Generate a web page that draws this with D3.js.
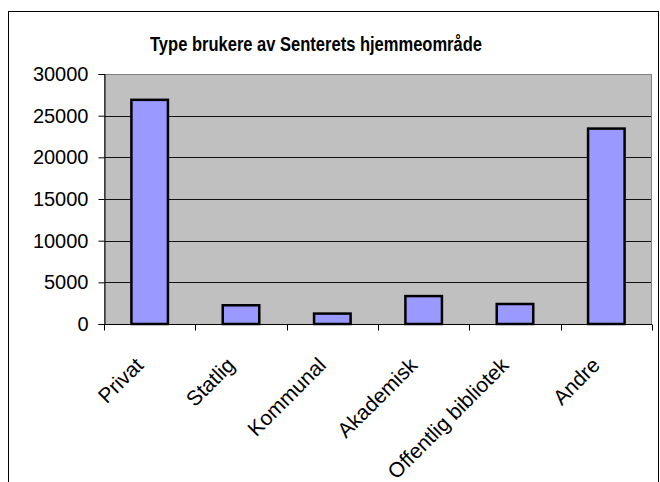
<!DOCTYPE html>
<html>
<head>
<meta charset="utf-8">
<script src="https://cdn.jsdelivr.net/npm/d3@7"></script>
<style>
  body { margin: 0; background: #fff; }
  svg { display: block; font-family: "Liberation Sans", Arial, sans-serif; }
</style>
</head>
<body>
<div class="canvas"></div>
<script>
const categories = ['Privat', 'Statlig', 'Kommunal', 'Akademisk', 'Offentlig bibliotek', 'Andre'];
const users = [26900, 2250, 1250, 3350, 2400, 23450];
const yTicks = [0, 5000, 10000, 15000, 20000, 25000, 30000];
const title = 'Type brukere av Senterets hjemmeområde';

const svgWidth = 660;
const svgHeight = 482;
const margin = { top: 74, right: 8, bottom: 158, left: 104 };
const chartWidth = 652 - margin.left;
const chartHeight = 324 - margin.top;

const svg = d3.select('.canvas')
  .append('svg')
  .attr('width', svgWidth)
  .attr('height', svgHeight);

// outer chart frame (runs off the right and bottom of the picture)
svg.append('rect')
  .attr('x', 8.5).attr('y', 11.5)
  .attr('width', 650).attr('height', 500)
  .attr('fill', 'none')
  .attr('stroke', '#000');

svg.append('text')
  .attr('x', 150).attr('y', 51)
  .attr('font-weight', 'bold')
  .attr('font-size', '21px')
  .attr('textLength', 332)
  .attr('lengthAdjust', 'spacingAndGlyphs')
  .text(title);

const chart = svg.append('g').attr('transform', `translate(${margin.left}, ${margin.top})`);

const xScale = d3.scaleBand().domain(categories).range([0, chartWidth]).paddingInner(0.6).paddingOuter(0.3);
const xEdges = d3.scaleBand().domain(categories).range([0, chartWidth]);
const yScale = d3.scaleLinear().domain([0, 30000]).range([chartHeight, 0]);

chart.append('rect')
  .attr('width', chartWidth)
  .attr('height', chartHeight)
  .attr('fill', '#c0c0c0');

// gridlines
chart.selectAll('.grid')
  .data(yTicks.filter((d) => d > 0 && d < 30000))
  .enter()
  .append('line')
  .attr('x1', 0).attr('x2', chartWidth)
  .attr('y1', (d) => Math.round(yScale(d)) + 0.5)
  .attr('y2', (d) => Math.round(yScale(d)) + 0.5)
  .attr('stroke', '#111')
  .attr('stroke-width', 1);

chart.append('rect')
  .attr('x', 0.5).attr('y', 0.5)
  .attr('width', chartWidth - 1)
  .attr('height', chartHeight)
  .attr('fill', 'none')
  .attr('stroke', '#808080');

chart.selectAll('.bar')
  .data(categories)
  .enter()
  .append('rect')
  .attr('class', 'bar')
  .attr('x', (d) => xScale(d))
  .attr('y', (d, i) => yScale(users[i]))
  .attr('width', xScale.bandwidth())
  .attr('height', (d, i) => chartHeight - yScale(users[i]))
  .attr('fill', '#9999ff')
  .attr('stroke', '#000')
  .attr('stroke-width', 2.5);

const yAxis = d3.axisLeft(yScale).tickValues(yTicks).tickSize(6).tickPadding(10).tickFormat((d) => `${d}`);
const yAxisGroup = chart.append('g').attr('transform', 'translate(0.5,0)').call(yAxis);
yAxisGroup.select('.domain').attr('stroke', '#000');
yAxisGroup.selectAll('text')
  .attr('font-size', '20px')
  .attr('fill', '#000')
  .attr('font-family', '"Liberation Sans", Arial, sans-serif');

const xAxisGroup = chart.append('g').attr('transform', `translate(0, ${chartHeight + 0.5})`);
xAxisGroup.append('line')
  .attr('x1', 0).attr('x2', chartWidth)
  .attr('stroke', '#000');
xAxisGroup.selectAll('.tick')
  .data(categories.concat(['end']))
  .enter()
  .append('line')
  .attr('x1', (d, i) => Math.round(i < categories.length ? xEdges(d) : chartWidth) + 0.5)
  .attr('x2', (d, i) => Math.round(i < categories.length ? xEdges(d) : chartWidth) + 0.5)
  .attr('y1', 0).attr('y2', 6)
  .attr('stroke', '#000');

xAxisGroup.selectAll('.label')
  .data(categories)
  .enter()
  .append('text')
  .attr('text-anchor', 'end')
  .attr('font-size', '21px')
  .attr('transform', (d) => `translate(${xEdges(d) + xEdges.bandwidth() / 2 - 5}, 42) rotate(-45)`)
  .text((d) => d);
</script>
</body>
</html>
